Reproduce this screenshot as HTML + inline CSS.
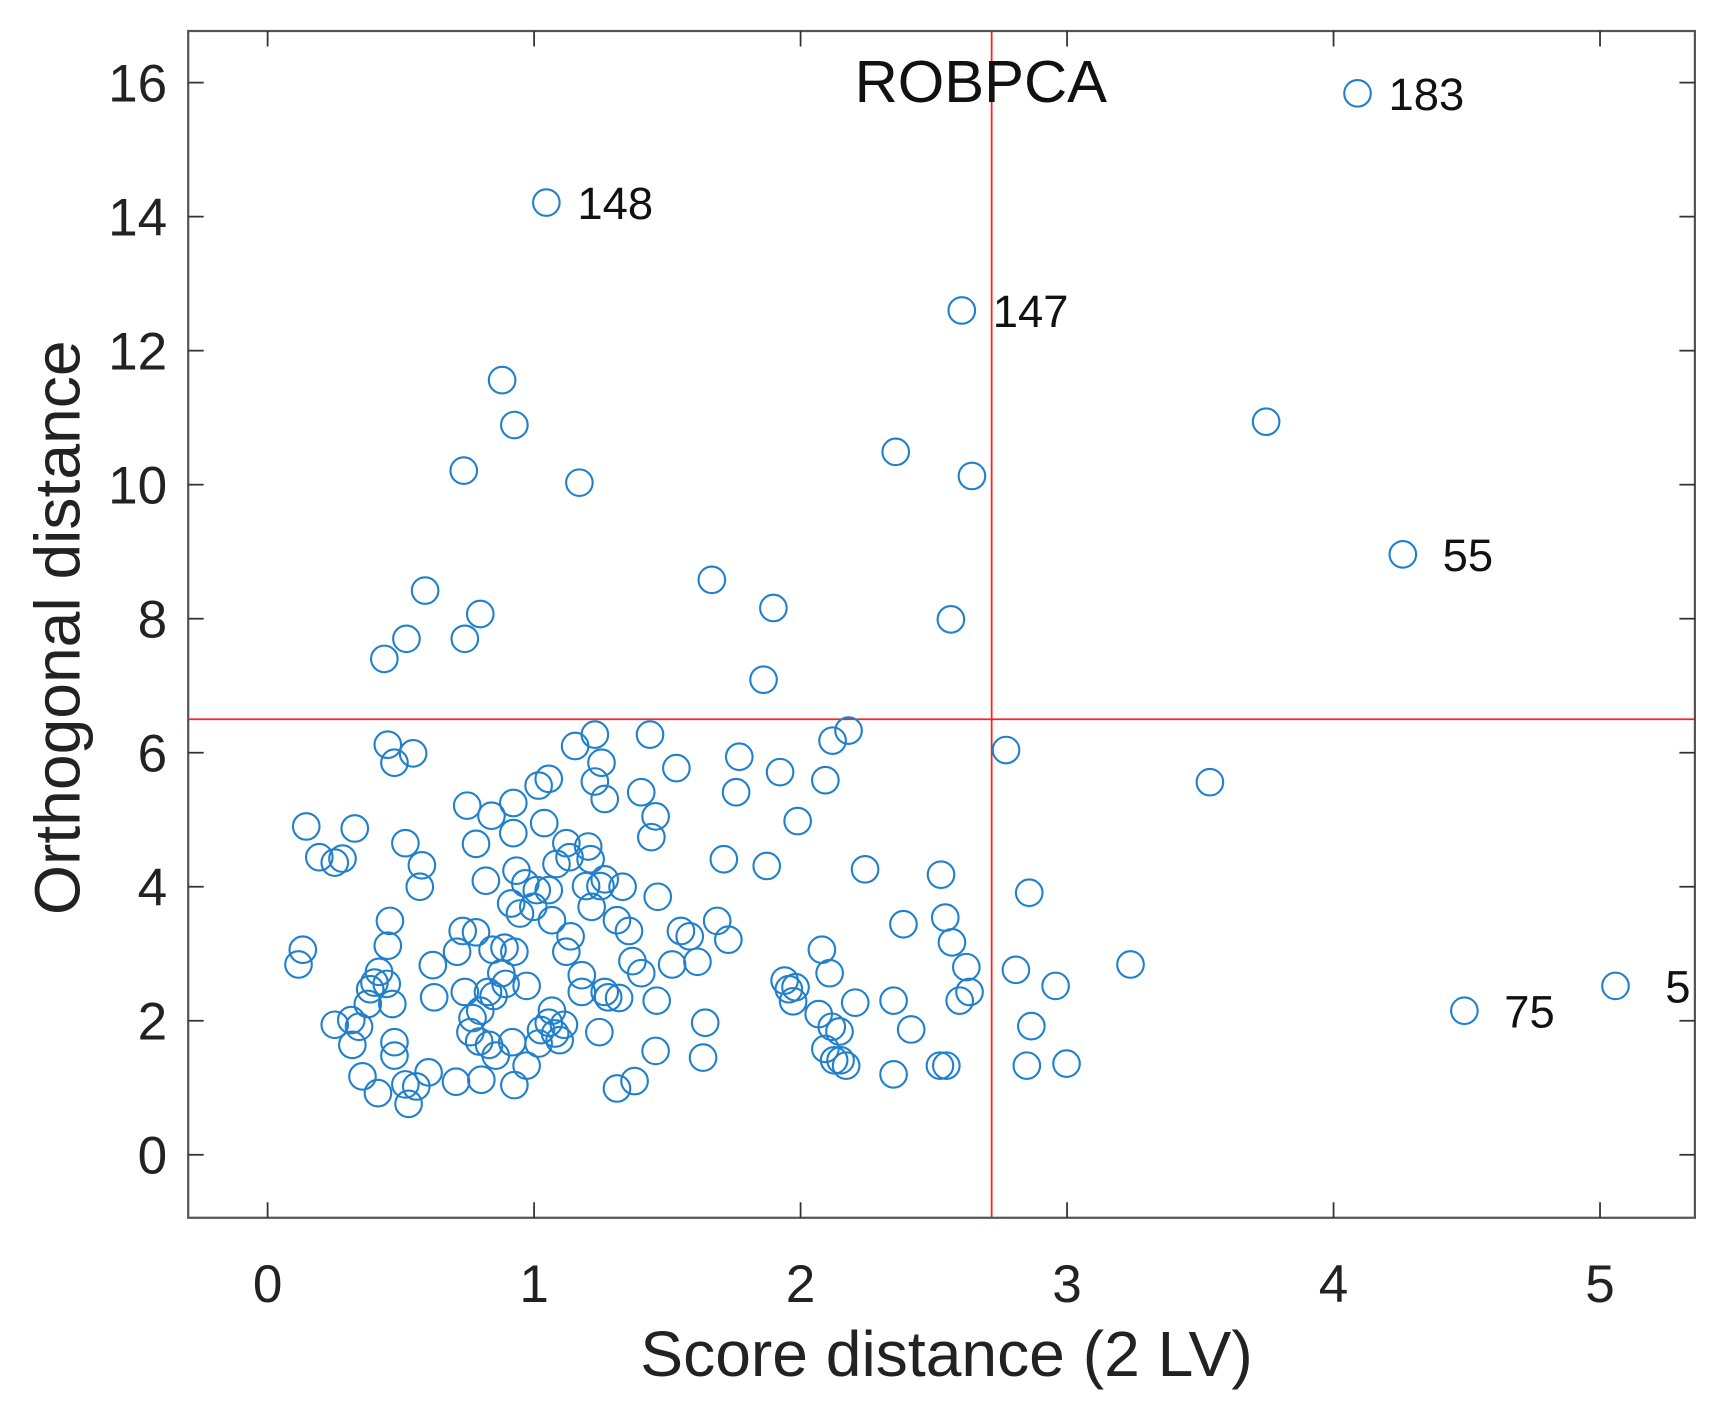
<!DOCTYPE html>
<html><head><meta charset="utf-8"><style>
html,body{margin:0;padding:0;background:#fff;}
svg{display:block;font-family:"Liberation Sans",Arial,sans-serif;}
</style></head><body>
<svg id="chart" width="1727" height="1402" viewBox="0 0 1560 1266.4" xmlns="http://www.w3.org/2000/svg">
<defs><clipPath id="plotclip"><rect x="171" y="28" width="1367" height="1077"/></clipPath></defs>
<rect x="0" y="0" width="1560" height="1266.4" fill="#fff"/>
<g id="marks" clip-path="url(#plotclip)"></g>
<g id="axes"></g>
</svg>
<script>
const xTicks = [0,1,2,3,4,5];
const yTicks = [0,2,4,6,8,10,12,14,16];
const xCutoff = 2.717;
const yCutoff = 6.50;
const scoreDist = [4.09,1.046,2.605,0.88,0.926,3.747,0.736,1.17,2.357,2.643,4.26,1.667,1.898,0.591,0.798,0.521,0.74,0.438,2.564,1.861,2.771,3.536,4.491,5.058,2.18,2.12,1.435,1.228,1.154,1.253,1.534,1.77,1.923,2.093,1.055,1.228,1.265,1.402,1.758,0.451,0.546,0.476,1.017,0.922,0.749,0.84,1.456,1.038,1.989,0.145,0.327,0.194,0.281,0.252,0.517,0.782,0.922,1.44,1.121,1.133,1.203,1.212,1.084,0.579,1.712,1.873,2.242,2.527,0.934,0.819,0.967,1.01,1.249,1.332,0.571,1.265,1.195,1.055,2.858,1.464,0.914,0.997,1.216,0.947,1.067,1.311,0.459,2.543,2.386,1.356,1.687,1.551,1.584,0.732,0.782,1.137,1.729,2.568,0.132,0.451,0.711,0.844,0.889,0.926,1.121,2.08,0.116,0.62,1.369,1.518,1.613,2.622,2.808,3.238,0.418,0.877,1.402,1.179,2.109,0.401,0.447,0.385,0.893,0.972,1.94,1.956,1.981,2.957,0.74,0.827,1.179,1.265,0.848,0.625,1.278,1.319,1.46,2.349,2.205,1.972,2.597,2.634,0.468,0.376,1.067,0.798,2.068,0.769,0.252,0.314,0.343,1.642,1.055,1.112,1.079,1.026,2.117,2.146,2.866,2.415,0.761,1.245,1.017,1.096,0.918,0.794,0.318,0.476,0.831,0.476,1.456,2.093,0.856,1.634,2.126,2.171,2.15,0.972,2.523,2.547,2.849,2.998,2.349,0.604,0.356,0.517,0.558,0.707,0.802,0.926,1.377,1.311,0.414,0.529];
const orthDist = [15.84,14.21,12.60,11.56,10.89,10.94,10.21,10.03,10.49,10.13,8.96,8.58,8.16,8.42,8.07,7.70,7.70,7.40,7.99,7.09,6.04,5.56,2.15,2.52,6.33,6.18,6.27,6.27,6.10,5.85,5.77,5.94,5.71,5.59,5.61,5.57,5.31,5.41,5.41,6.12,5.99,5.85,5.51,5.25,5.21,5.06,5.05,4.95,4.98,4.90,4.87,4.44,4.42,4.36,4.65,4.64,4.80,4.74,4.65,4.44,4.60,4.41,4.34,4.32,4.41,4.31,4.26,4.18,4.24,4.09,4.05,3.95,4.01,4.00,4.00,4.11,4.01,3.95,3.91,3.85,3.75,3.70,3.70,3.60,3.50,3.50,3.49,3.54,3.44,3.34,3.49,3.34,3.26,3.34,3.32,3.26,3.21,3.17,3.06,3.12,3.03,3.06,3.09,3.03,3.03,3.06,2.84,2.83,2.89,2.84,2.88,2.80,2.76,2.84,2.73,2.71,2.71,2.68,2.71,2.57,2.55,2.47,2.55,2.52,2.60,2.47,2.50,2.52,2.43,2.43,2.43,2.43,2.37,2.35,2.35,2.34,2.30,2.30,2.27,2.29,2.30,2.43,2.25,2.25,2.15,2.15,2.10,2.04,1.94,2.01,1.91,1.97,1.97,1.94,1.81,1.86,1.91,1.84,1.92,1.87,1.83,1.83,1.66,1.71,1.68,1.69,1.64,1.68,1.64,1.48,1.55,1.58,1.48,1.45,1.41,1.33,1.41,1.33,1.33,1.33,1.33,1.36,1.20,1.23,1.17,1.05,1.02,1.09,1.12,1.04,1.10,0.99,0.92,0.76];
const labelIdx = [0,1,2,10,22,23];
const labelText = ["183","148","147","55","75","5"];

const L=170,R=1531,T=28,B=1100;
const xMin=-0.298,xMax=5.356,yMin=-0.94,yMax=16.77;
const sx=v=>L+(v-xMin)/(xMax-xMin)*(R-L);
const sy=v=>B-(v-yMin)/(yMax-yMin)*(B-T);
document.querySelector('#plotclip rect').setAttribute('x',L);
document.querySelector('#plotclip rect').setAttribute('y',T);
document.querySelector('#plotclip rect').setAttribute('width',R-L);
document.querySelector('#plotclip rect').setAttribute('height',B-T);
const NS="http://www.w3.org/2000/svg";
function mk(tag,attrs,parent,text){const e=document.createElementNS(NS,tag);for(const k in attrs)e.setAttribute(k,attrs[k]);if(text!==undefined)e.textContent=text;parent.appendChild(e);return e;}
const marks=document.getElementById('marks'),axes=document.getElementById('axes');

let vl=mk('line',{x1:sx(xCutoff),x2:sx(xCutoff),y1:T,y2:B,stroke:'#ff2020','stroke-width':1.6},marks);


let hl=mk('line',{x1:L,x2:R,y1:sy(yCutoff),y2:sy(yCutoff),stroke:'#ff2020','stroke-width':1.6},marks);



for(let i=0;i<scoreDist.length;i++){
  const c=mk('circle',{cx:sx(scoreDist[i]),cy:sy(orthDist[i]),r:12,fill:'none',stroke:'#2080cc','stroke-width':1.9},marks);
  
  
}
labelIdx.forEach((idx,j)=>{
  const dx = (labelText[j]==="55"||labelText[j]==="75") ? 36 : (labelText[j]==="5" ? 45 : 28);
  const t=mk('text',{x:sx(scoreDist[idx])+dx,y:sy(orthDist[idx])+15,'font-size':41,fill:'#111'},marks,labelText[j]);
  
  
});

let box=mk('rect',{x:L,y:T,width:R-L,height:B-T,fill:'none',stroke:'#555','stroke-width':2},axes);


xTicks.forEach(v=>{
  const x=sx(v);
  mk('line',{x1:x,x2:x,y1:B,y2:B-14,stroke:'#333','stroke-width':1.6},axes);
  mk('line',{x1:x,x2:x,y1:T,y2:T+14,stroke:'#333','stroke-width':1.6},axes);
  const t=mk('text',{x:x,y:1176,'font-size':48,'text-anchor':'middle',fill:'#222'},axes,String(v));
  
  
});
yTicks.forEach(v=>{
  const y=sy(v);
  mk('line',{x1:L,x2:L+14,y1:y,y2:y,stroke:'#333','stroke-width':1.6},axes);
  mk('line',{x1:R,x2:R-14,y1:y,y2:y,stroke:'#333','stroke-width':1.6},axes);
  const t=mk('text',{x:151,y:y+17,'font-size':48,'text-anchor':'end',fill:'#222'},axes,String(v));
  
  
});
let tt=mk('text',{x:886,y:92,'font-size':54,'text-anchor':'middle',fill:'#111'},axes,'ROBPCA');


let xt=mk('text',{x:855,y:1243,'font-size':58,'text-anchor':'middle',fill:'#222'},axes,'Score distance (2 LV)');


let yt=mk('text',{x:0,y:0,'font-size':58,'text-anchor':'middle',fill:'#222',transform:'translate(72,567) rotate(-90)'},axes,'Orthogonal distance');


</script>
</body></html>
